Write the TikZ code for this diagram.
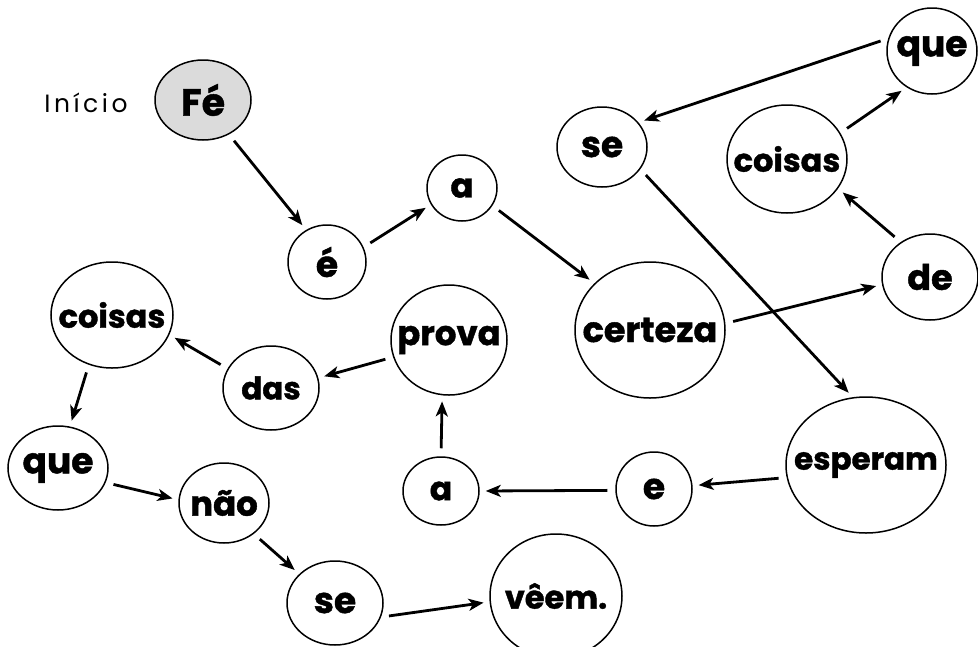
\documentclass[tikz,border=0pt]{standalone}
\usepackage{fontspec}
\newfontfamily\wfont{Poppins}[BoldFeatures={FakeBold=1.2}]
\newfontfamily\ifont{Poppins}[LetterSpace=14]
\usetikzlibrary{shapes.geometric,arrows.meta}
\tikzset{
  word/.style={ellipse, draw, line width=1.5pt, inner sep=0pt},
  fs/.style={inner sep=0pt, font=\wfont\bfseries\fontsize{#1}{#1}\selectfont},
  conn/.style={line width=2.8pt, -{Stealth[length=15pt,width=12pt,inset=4pt]},
    shorten <=8pt, shorten >=6pt}
}
% name, position, text, width, height, font size
\newcommand{\wn}[6]{\node[word, minimum width=#4pt, minimum height=#5pt,
  label={[fs=#6]center:#3}] (#1) at (#2) {};}
\begin{document}
\begin{tikzpicture}[x=1pt,y=-1pt]
\useasboundingbox (0,0) rectangle (978,646);
\node[font=\ifont\fontsize{25}{25}\selectfont] (inicio) at (86,103) {Início};
\node[word, fill=gray!28, minimum width=96pt, minimum height=80pt,
  label={[fs=38]center:Fé}] (fe) at (203,100) {};
\wn{e1}{327,262}{é}{78}{74}{36}
\wn{a1}{462,188}{a}{70}{66}{34}
\wn{cert}{650,330}{certeza}{150}{136}{35}
\wn{de}{930,277}{de}{96}{86}{35}
\wn{coi1}{787,159}{coisas}{120}{108}{32}
\wn{que1}{932,51}{que}{90}{86}{36}
\wn{se1}{602,147}{se}{90}{80}{36}
\wn{esp}{866,465}{esperam}{160}{136}{31}
\wn{e2}{654,489}{e}{76}{74}{36}
\wn{a2}{441,491}{a}{76}{68}{33}
\wn{prova}{449,340}{prova}{116}{110}{34}
\wn{das}{271,388}{das}{96}{84}{31}
\wn{coi2}{112,315}{coisas}{122}{106}{32}
\wn{que2}{58,468}{que}{100}{84}{36}
\wn{nao}{224,503}{não}{90}{80}{34}
\wn{se2}{335,603}{se}{96}{84}{36}
\wn{veem}{556,596}{vêem.}{132}{124}{32}
\draw[conn] (fe.-53) -- (e1.123);
\draw[conn] (e1.22) -- (a1.208);
\draw[conn] (a1.-30) -- (cert.140);
\draw[conn] (cert.5) -- (de.189);
\draw[conn] (de.130) -- (coi1.-30);
\draw[conn] (coi1.26) -- (que1.235);
\draw[conn] (que1.164) -- (se1.34);
\draw[conn] (se1.-30) -- (esp.101);
\draw[conn] (esp.189) -- (e2.5);
\draw[conn] (e2.182) -- (a2.0);
\draw[conn] (a2.90) -- (prova.263);
\draw[conn] (prova.197) -- (das.12);
\draw[conn] (das.156) -- (coi2.-19);
\draw[conn] (coi2.245) -- (que2.74);
\draw[conn] (que2.-17) -- (nao.176);
\draw[conn] (nao.-46) -- (se2.141);
\draw[conn] (se2.-17) -- (veem.185);
\end{tikzpicture}
\end{document}
